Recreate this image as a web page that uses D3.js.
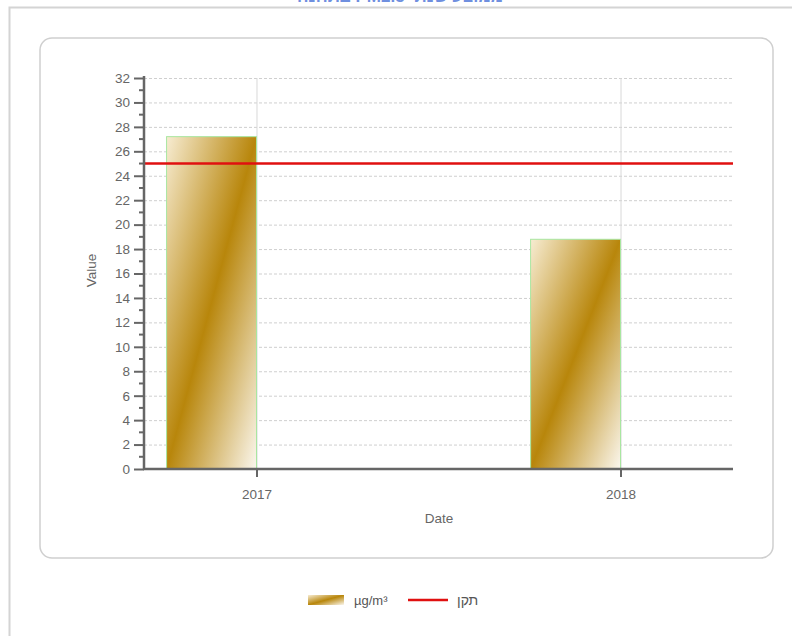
<!DOCTYPE html>
<html>
<head>
<meta charset="utf-8">
<script src="https://cdn.jsdelivr.net/npm/d3@7"></script>
<style>
  body { margin: 0; background: #fff; }
  text { font-family: "Liberation Sans", Arial, sans-serif; }
</style>
</head>
<body>
<div id="chart"></div>
<script>
const width = 792
const height = 636

// data
const years = ["2017", "2018"]
const values = [27.2, 18.8]
const standard = 25
const yTicks = d3.range(0, 33, 2)
const seriesName = "µg/m³"
const standardName = "תקן"
const title = "ממוצע שנתי PM2.5 בתחנה"

const plot = { left: 144, right: 733, top: 78, bottom: 469 }

const svg = d3.select("div#chart").append("svg").attr("width", width).attr("height", height)

// gradient for the bars
const defs = svg.append("defs")
const grad = defs.append("linearGradient").attr("id", "gold")
  .attr("x1", 0).attr("y1", 0).attr("x2", 1).attr("y2", 1)
grad.append("stop").attr("offset", "0%").attr("stop-color", "#f7ecd2")
grad.append("stop").attr("offset", "50%").attr("stop-color", "#b8860b")
grad.append("stop").attr("offset", "100%").attr("stop-color", "#fbf7ee")

// outer frame (left + top only visible)
svg.append("path").attr("d", `M9.5,${height} V7.5 H${width}`)
  .attr("fill", "none").attr("stroke", "#d4d4d4").attr("stroke-width", 2)

// title, cut off at the top like in the source picture
svg.append("text").attr("x", 400).attr("y", 2).attr("text-anchor", "middle")
  .attr("font-size", 17).attr("font-weight", "bold").attr("fill", "#6f8fdf")
  .attr("direction", "rtl").text(title)

// inner rounded panel
svg.append("rect").attr("x", 40).attr("y", 38).attr("width", 733).attr("height", 520)
  .attr("rx", 12).attr("fill", "#fff").attr("stroke", "#cfcfcf").attr("stroke-width", 1.5)

const x = d3.scalePoint().domain(years).range([plot.left, plot.right]).padding(0.309)
const y = d3.scaleLinear().domain([0, 32]).range([plot.bottom, plot.top])
const barW = x.step() * 0.247

const g = svg.append("g")

// horizontal dashed grid
g.selectAll(".hgrid").data(yTicks.filter(d => d > 0)).enter().append("line")
  .attr("x1", plot.left).attr("x2", plot.right)
  .attr("y1", d => y(d) + 0.5).attr("y2", d => y(d) + 0.5)
  .attr("stroke", "#cfcfcf").attr("stroke-dasharray", "3,2")

// vertical grid at categories
g.selectAll(".vgrid").data(years).enter().append("line")
  .attr("x1", d => x(d) + 0.5).attr("x2", d => x(d) + 0.5)
  .attr("y1", plot.top).attr("y2", plot.bottom)
  .attr("stroke", "#d8d8d8")

// bars
g.selectAll(".bar").data(values).enter().append("rect")
  .attr("class", "bar")
  .attr("x", (d, i) => x(years[i]) - barW)
  .attr("y", d => y(d))
  .attr("width", barW)
  .attr("height", d => y(0) - y(d))
  .attr("fill", "url(#gold)")
  .attr("stroke", "#a8e6a0").attr("stroke-width", 1)

// standard line
g.append("line").attr("x1", plot.left).attr("x2", plot.right)
  .attr("y1", y(standard)).attr("y2", y(standard))
  .attr("stroke", "#e01010").attr("stroke-width", 2.5)

// y axis
const yAxis = d3.axisLeft(y).tickValues(yTicks).tickSize(10).tickPadding(4)
const yAxisGroup = svg.append("g").attr("transform", `translate(${plot.left},0)`).call(yAxis)
yAxisGroup.select(".domain").remove()
yAxisGroup.selectAll(".tick line").attr("stroke", "#666").attr("stroke-width", 2)
yAxisGroup.selectAll("text").attr("fill", "#666").attr("font-size", 13.5)
// minor ticks
yAxisGroup.selectAll(".minor").data(d3.range(1, 32, 2)).enter().append("line")
  .attr("x1", -5).attr("x2", 0).attr("y1", d => y(d)).attr("y2", d => y(d))
  .attr("stroke", "#666").attr("stroke-width", 2)
yAxisGroup.append("line").attr("x1", 0).attr("x2", 0)
  .attr("y1", plot.top - 2).attr("y2", plot.bottom + 1)
  .attr("stroke", "#666").attr("stroke-width", 2.5)

// x axis
const xAxis = d3.axisBottom(x).tickSize(8).tickPadding(12)
const xAxisGroup = svg.append("g").attr("transform", `translate(0,${plot.bottom})`).call(xAxis)
xAxisGroup.select(".domain").remove()
xAxisGroup.selectAll(".tick line").attr("stroke", "#666").attr("stroke-width", 2)
xAxisGroup.selectAll("text").attr("fill", "#666").attr("font-size", 13.5)
xAxisGroup.append("line").attr("x1", plot.left - 1).attr("x2", plot.right)
  .attr("y1", 0).attr("y2", 0).attr("stroke", "#666").attr("stroke-width", 2.5)

// axis titles
svg.append("text").attr("transform", `translate(96,${(plot.top + plot.bottom) / 2 - 3}) rotate(-90)`)
  .attr("text-anchor", "middle").attr("font-size", 13.5).attr("fill", "#666").text("Value")
svg.append("text").attr("x", 439).attr("y", 523).attr("text-anchor", "middle")
  .attr("font-size", 13.5).attr("fill", "#666").text("Date")

// legend
const legend = svg.append("g")
legend.append("rect").attr("x", 308).attr("y", 595).attr("width", 36).attr("height", 10)
  .attr("fill", "url(#gold)")
legend.append("text").attr("x", 354).attr("y", 605).attr("font-size", 13).attr("fill", "#555").text(seriesName)
legend.append("line").attr("x1", 408).attr("x2", 448).attr("y1", 600).attr("y2", 600)
  .attr("stroke", "#e01010").attr("stroke-width", 2.5)
legend.append("text").attr("x", 457).attr("y", 605).attr("font-size", 14).attr("fill", "#555")
  .attr("text-anchor", "start").text(standardName)
</script>
</body>
</html>
